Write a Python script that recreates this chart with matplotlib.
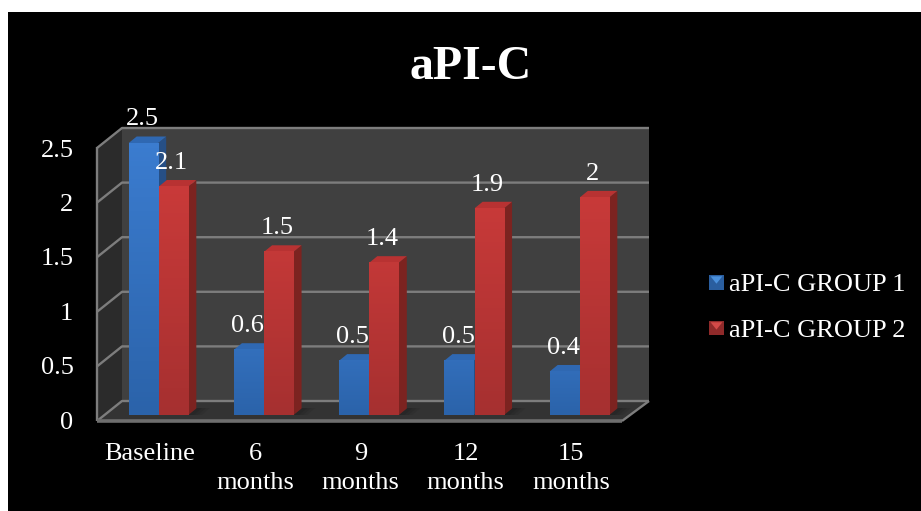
import matplotlib
matplotlib.use("Agg")
import numpy as np
import matplotlib.pyplot as plt
from matplotlib.patches import Polygon, Rectangle
from matplotlib.transforms import ScaledTranslation
from matplotlib.colors import LinearSegmentedColormap

plt.rcParams['font.family'] = ['Liberation Serif', 'DejaVu Serif']

categories = ["Baseline", "6\nmonths", "9\nmonths", "12\nmonths", "15\nmonths"]
group1 = [2.5, 0.6, 0.5, 0.5, 0.4]
group2 = [2.1, 1.5, 1.4, 1.9, 2.0]
label1 = [str(v) for v in group1]
label2 = ["2.1", "1.5", "1.4", "1.9", "2"]
y_ticks = [0, 0.5, 1, 1.5, 2, 2.5]
y_labels = ["0", "0.5", "1", "1.5", "2", "2.5"]

W, H = 921, 511
X0, XS = 158.5, 105.25   # pixel of group 0 centre, pixels per category
Y0, YS = 415.0, 108.8    # pixel of value 0, pixels per unit

def px(x):
    return (x - X0) / XS

def py(y):
    return (Y0 - y) / YS

fig = plt.figure(figsize=(W / 100, H / 100), dpi=100, facecolor="white")
fig.add_artist(Rectangle((8 / W, 0), 1, 1 - 12 / H, transform=fig.transFigure, color="black", lw=0, zorder=-10))

L, R, T, B = 97, 649, 128, 415
ax = fig.add_axes([L / W, 1 - B / H, (R - L) / W, (B - T) / H])
ax.set_facecolor("none")
for s in ax.spines.values():
    s.set_visible(False)

def poly(pts, color, z, alpha=None):
    ax.add_patch(Polygon([(px(a), py(b)) for a, b in pts], closed=True, fc=color, ec="none",
                         zorder=z, clip_on=False, alpha=alpha))

def line(xs, ys, z=2, lw=1.7, color="#7d7d7d"):
    ax.plot([px(a) for a in xs], [py(b) for b in ys], color=color, lw=lw, zorder=z,
            clip_on=False, solid_capstyle="butt")

# walls and floor
poly([(122, 128), (649, 128), (649, 401), (122, 401)], "#404040", 1)
poly([(97, 147), (122, 128), (122, 401), (97, 421)], "#2b2b2b", 1)
poly([(97, 421), (122, 401), (649, 401), (622, 421)], "#333333", 1)

# gridlines across the back wall and the side wall, one for each tick
for t in y_ticks:
    back = 401 - t * 109.2
    line([97, 122, 649], [back + 20, back, back])
line([97, 97], [147, 421])
line([97, 622], [421, 421], lw=2.6, color="#6e6e6e")
line([622, 649], [421, 401])

blue_map = LinearSegmentedColormap.from_list("b", ["#2b63aa", "#3b7ccf"])
red_map = LinearSegmentedColormap.from_list("r", ["#a63030", "#cc3b3a"])
bar_w = 29.5 / XS
dx, dy = 8 / XS, 6.5 / YS
pos = np.arange(len(categories))

def draw_bars(xs, vals, cmap, top, side, z):
    bars = ax.bar(xs, vals, bar_w, color=side, zorder=z + 1, clip_on=False)
    for x, v, b in zip(xs, vals, bars):
        l, r = x - bar_w / 2, x + bar_w / 2
        ax.add_patch(Polygon([(r, 0), (r + dx, dy), (r + dx, v + dy), (r, v)], fc=side, ec="none", zorder=z, clip_on=False))
        ax.add_patch(Polygon([(l, v), (l + dx, v + dy), (r + dx, v + dy), (r, v)], fc=top, ec="none", zorder=z, clip_on=False))
        grad = np.linspace(1, 0, 60).reshape(-1, 1) * (v / 2.5) ** 0.5
        ax.imshow(grad, extent=(l, r, 0, v), aspect="auto", cmap=cmap, vmin=0, vmax=1, zorder=z + 2, clip_on=False)

# soft shadow on the floor next to each group
for x in pos:
    right = X0 + x * XS + bar_w * XS
    for grow, a in [(10, 0.15), (6, 0.2), (2, 0.25)]:
        poly([(right, 415), (right + 8, 408), (right + 12 + grow, 408), (right + 4 + grow, 415)], "#1e1e1e", 2, alpha=a)

draw_bars(pos - bar_w / 2 - 0.003, group1, blue_map, "#2f68b2", "#264f85", 3)
draw_bars(pos + bar_w / 2 + 0.003, group2, red_map, "#b83232", "#7c2320", 6)

ax.set_xlim(px(L), px(R))
ax.set_ylim(py(B), py(T))

# value labels
for x, v, s in zip(pos - bar_w / 2, group1, label1):
    ax.annotate(s, (x, v), xytext=(-1, 17), textcoords="offset points", ha="center", va="center",
                color="white", fontsize=19, zorder=20, annotation_clip=False)
for x, v, s in zip(pos + bar_w / 2, group2, label2):
    ax.annotate(s, (x, v), xytext=(-1, 17), textcoords="offset points", ha="center", va="center",
                color="white", fontsize=19, zorder=20, annotation_clip=False)

# axis labels
ax.set_yticks(y_ticks)
ax.set_yticklabels(y_labels)
ax.set_xticks(pos)
ax.set_xticklabels(categories, linespacing=1.42)
ax.tick_params(axis="both", length=0, colors="white", labelsize=19)
ax.tick_params(axis="y", pad=17)
ax.tick_params(axis="x", pad=20)
for lab in ax.get_yticklabels():
    lab.set_transform(lab.get_transform() + ScaledTranslation(0, -5 / 100, fig.dpi_scale_trans))
for lab in ax.get_xticklabels():
    lab.set_transform(lab.get_transform() + ScaledTranslation(-8.5 / 100, 0, fig.dpi_scale_trans))

fig.text(471 / W, 1 - 67 / H, "aPI-C", color="white", fontsize=34.5, fontweight="bold", ha="center", va="center")

# legend
class Bevel:
    def __init__(self, base, light):
        self.base, self.light = base, light

    def legend_artist(self, legend, orig, fontsize, box):
        s = 10.5
        x0 = box.width - s - box.xdescent
        y0 = (box.height - s) / 2 - box.ydescent - 0.5
        box.add_artist(Rectangle((x0, y0), s, s, fc=self.base, ec="none", transform=box.get_transform()))
        tri = Polygon([(x0 + 1, y0 + s - 1), (x0 + s - 1, y0 + s - 1), (x0 + s / 2, y0 + s * 0.4)],
                      fc=self.light, ec="none", transform=box.get_transform())
        box.add_artist(tri)
        return tri

h1 = Rectangle((0, 0), 1, 1)
h2 = Rectangle((0, 0), 1, 1)
ax.legend([h1, h2], ["aPI-C GROUP 1", "aPI-C GROUP 2"],
          handler_map={h1: Bevel("#2a5e9f", "#4a90dc"), h2: Bevel("#8f2a2a", "#d44a48")},
          loc="center left", bbox_to_anchor=(700 / W, 1 - 307 / H), bbox_transform=fig.transFigure,
          frameon=False, labelcolor="white", fontsize=19, handlelength=0.9, handletextpad=0.2,
          labelspacing=0.85, borderpad=0, borderaxespad=0)

fig.savefig("out.png", dpi=100, facecolor="white")
